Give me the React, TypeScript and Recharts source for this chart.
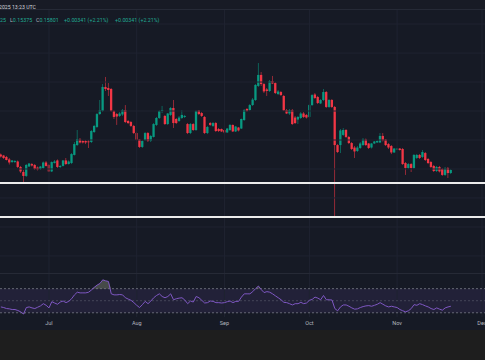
import React from 'react';
import { ComposedChart, Bar, Line, Area, XAxis, YAxis, ReferenceLine, ReferenceArea } from 'recharts';

// Jul 1 = day 0; first daily candle is Jun 14
const FIRST_DAY = -17;

// [open, high, low, close]
const ohlc: [number, number, number, number][] = [
  [0.1700,0.1707,0.1679,0.1686],[0.1693,0.1697,0.1669,0.1676],[0.1683,0.1690,0.1659,0.1662],[0.1666,0.1676,0.1631,0.1645],
  [0.1648,0.1662,0.1641,0.1659],[0.1648,0.1662,0.1641,0.1655],[0.1652,0.1659,0.1607,0.1614],[0.1614,0.1621,0.1572,0.1583],
  [0.1579,0.1593,0.1510,0.1552],[0.1552,0.1634,0.1545,0.1628],[0.1617,0.1641,0.1614,0.1638],[0.1634,0.1641,0.1617,0.1624],
  [0.1628,0.1634,0.1593,0.1600],[0.1610,0.1617,0.1590,0.1597],[0.1600,0.1621,0.1593,0.1617],[0.1607,0.1652,0.1600,0.1645],
  [0.1645,0.1655,0.1617,0.1621],[0.1628,0.1634,0.1579,0.1583],[0.1583,0.1652,0.1579,0.1648],[0.1641,0.1662,0.1638,0.1652],
  [0.1659,0.1666,0.1607,0.1614],[0.1614,0.1628,0.1607,0.1621],[0.1621,0.1662,0.1617,0.1659],[0.1659,0.1676,0.1628,0.1634],
  [0.1634,0.1659,0.1631,0.1652],[0.1641,0.1710,0.1634,0.1703],[0.1697,0.1786,0.1693,0.1772],[0.1765,0.1869,0.1759,0.1807],
  [0.1804,0.1814,0.1776,0.1783],[0.1793,0.1800,0.1776,0.1783],[0.1793,0.1800,0.1772,0.1783],[0.1790,0.1800,0.1745,0.1786],
  [0.1786,0.1869,0.1779,0.1862],[0.1855,0.1904,0.1848,0.1897],[0.1890,0.1986,0.1883,0.1979],[0.1979,0.2076,0.1973,0.2007],
  [0.2000,0.2186,0.1993,0.2166],[0.2166,0.2235,0.2138,0.2152],[0.2159,0.2193,0.2104,0.2145],[0.2152,0.2159,0.1993,0.2000],
  [0.2000,0.2007,0.1945,0.1959],[0.1979,0.1986,0.1904,0.1962],[0.1966,0.1993,0.1959,0.1983],[0.1976,0.2014,0.1966,0.2007],
  [0.2007,0.2041,0.1917,0.1924],[0.1931,0.1938,0.1910,0.1917],[0.1924,0.1931,0.1890,0.1897],[0.1897,0.1904,0.1841,0.1848],
  [0.1848,0.1855,0.1793,0.1800],[0.1804,0.1807,0.1745,0.1752],[0.1752,0.1800,0.1745,0.1793],[0.1800,0.1855,0.1793,0.1848],
  [0.1848,0.1855,0.1786,0.1793],[0.1793,0.1835,0.1786,0.1828],[0.1821,0.1917,0.1817,0.1910],[0.1904,0.1959,0.1897,0.1952],
  [0.1952,0.2007,0.1945,0.2000],[0.2000,0.2035,0.1986,0.2007],[0.1966,0.1973,0.1904,0.1910],[0.1910,0.1986,0.1904,0.1983],
  [0.1973,0.2028,0.1966,0.2021],[0.2021,0.2076,0.1883,0.1917],[0.1945,0.1952,0.1910,0.1917],[0.1931,0.1966,0.1924,0.1955],
  [0.1952,0.2007,0.1945,0.1973],[0.1959,0.1973,0.1952,0.1966],[0.1910,0.1917,0.1841,0.1848],[0.1848,0.1917,0.1841,0.1910],
  [0.1910,0.1917,0.1862,0.1869],[0.1869,0.2007,0.1862,0.2000],[0.2004,0.2007,0.1973,0.1979],[0.1986,0.1993,0.1959,0.1966],
  [0.1959,0.1966,0.1841,0.1848],[0.1848,0.1897,0.1841,0.1890],[0.1917,0.1924,0.1897,0.1904],[0.1897,0.1924,0.1890,0.1917],
  [0.1917,0.1924,0.1855,0.1862],[0.1876,0.1883,0.1855,0.1862],[0.1876,0.1879,0.1855,0.1859],[0.1869,0.1872,0.1841,0.1852],
  [0.1852,0.1883,0.1848,0.1879],[0.1869,0.1910,0.1862,0.1904],[0.1904,0.1907,0.1855,0.1859],[0.1859,0.1897,0.1855,0.1893],
  [0.1886,0.1890,0.1859,0.1866],[0.1879,0.1948,0.1876,0.1945],[0.1938,0.2014,0.1931,0.2007],[0.2014,0.2021,0.1993,0.2000],
  [0.2007,0.2048,0.2000,0.2041],[0.2041,0.2090,0.2035,0.2079],[0.2076,0.2186,0.2069,0.2180],[0.2173,0.2331,0.2166,0.2249],
  [0.2249,0.2269,0.2173,0.2186],[0.2186,0.2193,0.2124,0.2135],[0.2149,0.2159,0.2104,0.2138],[0.2138,0.2214,0.2131,0.2207],
  [0.2207,0.2242,0.2186,0.2190],[0.2193,0.2200,0.2117,0.2124],[0.2117,0.2145,0.2110,0.2135],[0.2131,0.2138,0.2104,0.2110],
  [0.2104,0.2110,0.2000,0.2004],[0.2007,0.2014,0.1979,0.1983],[0.1983,0.2014,0.1973,0.2007],[0.2007,0.2014,0.1904,0.1910],
  [0.1955,0.1966,0.1910,0.1917],[0.1941,0.1966,0.1910,0.1959],[0.1952,0.1993,0.1945,0.1983],[0.1983,0.1993,0.1952,0.1959],
  [0.1973,0.1979,0.1948,0.1955],[0.1959,0.2048,0.1952,0.2041],[0.2041,0.2117,0.2035,0.2110],[0.2114,0.2124,0.2083,0.2090],
  [0.2097,0.2104,0.2048,0.2055],[0.2052,0.2083,0.2048,0.2076],[0.2076,0.2152,0.2069,0.2131],[0.2131,0.2138,0.2021,0.2028],
  [0.2028,0.2083,0.2021,0.2076],[0.2076,0.2083,0.2021,0.2028],[0.2028,0.2035,0.1269,0.1765],[0.1765,0.1772,0.1710,0.1717],
  [0.1765,0.1876,0.1710,0.1866],[0.1835,0.1883,0.1828,0.1869],[0.1869,0.1876,0.1814,0.1821],[0.1821,0.1828,0.1772,0.1779],
  [0.1779,0.1786,0.1731,0.1738],[0.1748,0.1759,0.1676,0.1721],[0.1724,0.1759,0.1717,0.1748],[0.1745,0.1786,0.1738,0.1776],
  [0.1765,0.1814,0.1759,0.1804],[0.1804,0.1810,0.1759,0.1765],[0.1776,0.1779,0.1738,0.1745],[0.1748,0.1779,0.1741,0.1776],
  [0.1776,0.1793,0.1772,0.1790],[0.1783,0.1800,0.1779,0.1793],[0.1783,0.1848,0.1779,0.1828],[0.1828,0.1848,0.1790,0.1797],
  [0.1804,0.1807,0.1759,0.1765],[0.1772,0.1779,0.1738,0.1748],[0.1759,0.1765,0.1703,0.1714],[0.1714,0.1745,0.1710,0.1741],
  [0.1734,0.1745,0.1731,0.1741],[0.1741,0.1745,0.1727,0.1731],[0.1738,0.1745,0.1628,0.1634],[0.1641,0.1648,0.1559,0.1607],
  [0.1607,0.1641,0.1600,0.1634],[0.1634,0.1641,0.1579,0.1607],[0.1607,0.1703,0.1600,0.1697],[0.1676,0.1703,0.1669,0.1697],
  [0.1697,0.1703,0.1669,0.1676],[0.1683,0.1731,0.1676,0.1717],[0.1710,0.1717,0.1655,0.1662],[0.1669,0.1676,0.1634,0.1641],
  [0.1648,0.1655,0.1607,0.1614],[0.1621,0.1628,0.1579,0.1586],[0.1586,0.1621,0.1579,0.1614],[0.1614,0.1621,0.1576,0.1583],
  [0.1600,0.1607,0.1552,0.1559],[0.1559,0.1614,0.1552,0.1603],[0.1607,0.1614,0.1538,0.1572],[0.1572,0.1600,0.1565,0.1593],
];

const rsi: number[] = [
  39.7,38.7,37.0,36.5,35.4,35.4,33.8,31.6,27.9,38.7,
  39.7,38.1,37.0,39.2,41.4,45.1,42.4,38.1,48.4,46.2,
  44.1,47.8,49.5,46.8,49.0,53.3,59.7,64.1,63.0,63.0,
  63.0,64.1,67.8,72.2,75.9,78.6,84.6,83.0,81.9,61.4,
  59.7,59.7,60.3,59.7,54.9,52.7,50.6,46.8,42.4,38.7,
  43.5,48.9,45.1,49.5,54.9,58.7,61.4,57.0,54.9,57.0,
  61.4,51.6,53.3,54.3,54.9,51.1,45.1,49.5,47.8,57.0,
  54.9,50.6,46.2,46.8,49.5,48.9,46.8,46.8,46.2,46.8,
  48.4,49.5,46.8,48.9,48.9,56.0,61.4,61.4,61.4,65.1,
  70.0,74.3,68.4,63.5,65.1,64.1,61.4,58.1,54.9,51.6,
  47.3,46.8,45.1,43.0,45.1,45.1,47.3,45.1,46.2,50.6,
  52.2,56.0,54.3,51.6,58.7,51.6,51.6,51.1,37.0,33.3,
  39.7,43.0,43.0,40.8,38.1,36.0,36.5,38.7,40.3,41.4,
  41.9,40.8,42.4,44.1,46.8,44.1,41.4,39.7,40.8,39.7,
  38.7,35.4,33.3,31.6,33.3,37.0,43.5,42.4,45.1,43.5,
  41.4,39.7,37.0,35.4,38.1,36.0,34.3,38.1,39.7,40.8,
];

const monthDays = [0, 31, 62, 92, 123, 153];
const monthLabels = ['Jul', 'Aug', 'Sep', 'Oct', 'Nov', 'Dec'];
const priceGrid = [0.26, 0.24, 0.22, 0.2, 0.18, 0.16, 0.14, 0.12, 0.1];
const levelLines = [0.1503, 0.1269];
const rsiBand = [30, 70];
const rsiMid = 50;

const headerText = '2025 13:23 UTC';
const legendParts = [
  { label: '', value: '25' },
  { label: 'L', value: '0.15375' },
  { label: 'C', value: '0.15801' },
  { label: '', value: '+0.00341 (+2.21%)' },
  { label: '', value: '+0.00341 (+2.21%)' },
];
const legendX = [0, 10, 36, 64, 115];

const X_DOMAIN: [number, number] = [-17.31, 154.06];
const PRICE_DOMAIN: [number, number] = [0.08823, 0.2697];
const RSI_DOMAIN: [number, number] = [23.0, 94.3];

const UP = '#089981';
const DOWN = '#f23645';
const GRID = '#1f2331';
const BG = '#161a25';
const FONT = 'Roboto, "Noto Sans", sans-serif';

const data = ohlc.map(([o, h, l, c], i) => ({
  day: FIRST_DAY + i,
  o, h, l, c,
  range: [l, h],
  rsi: rsi[i],
  ob: [rsiBand[1], Math.max(rsiBand[1], rsi[i])],
  os: [Math.min(rsiBand[0], rsi[i]), rsiBand[0]],
}));

function Candle(props: any) {
  const { x, y, width, height, payload } = props;
  if (x == null || y == null || !payload) return null;
  const top = Math.min(y, y + height);
  const hgt = Math.abs(height);
  const { o, h, l, c } = payload;
  const span = h - l || 1e-9;
  const yOf = (v: number) => top + ((h - v) / span) * hgt;
  const cx = x + width / 2;
  const color = c >= o ? UP : DOWN;
  const bTop = yOf(Math.max(o, c));
  const bBot = yOf(Math.min(o, c));
  return (
    <g>
      <rect x={cx - 0.35} y={top} width={0.7} height={hgt} fill={color} fillOpacity={0.8} />
      <rect x={cx - 1.15} y={bTop} width={2.3} height={Math.max(0.8, bBot - bTop)} fill={color} />
    </g>
  );
}

export default function App() {
  return (
    <div style={{ position: 'fixed', left: 0, top: 0, width: 485, height: 360, overflow: 'hidden', background: BG, fontFamily: FONT }}>
      {/* header strip */}
      <div style={{ position: 'absolute', left: 0, top: 0, width: 485, height: 10, background: '#181b25', borderBottom: '1px solid #262a36', boxSizing: 'border-box' }} />
      {/* main price pane */}
      <div style={{ position: 'absolute', left: 0, top: 10, width: 485, height: 263 }}>
        <ComposedChart width={485} height={263} data={data} margin={{ top: 0, right: 0, bottom: 0, left: 0 }}>
          <XAxis type="number" dataKey="day" domain={X_DOMAIN} hide allowDataOverflow />
          <YAxis type="number" domain={PRICE_DOMAIN} hide allowDataOverflow width={0} />
          {priceGrid.map((p) => (
            <ReferenceLine key={'g' + p} y={p} stroke={GRID} strokeWidth={1} />
          ))}
          {monthDays.map((d) => (
            <ReferenceLine key={'v' + d} x={d} stroke={GRID} strokeWidth={1} />
          ))}
          <Bar dataKey="range" barSize={3} shape={<Candle />} isAnimationActive={false} />
          {levelLines.map((p) => (
            <ReferenceLine key={'l' + p} y={p} stroke="#ececec" strokeWidth={2} />
          ))}
        </ComposedChart>
      </div>
      {/* pane separator */}
      <div style={{ position: 'absolute', left: 0, top: 273, width: 485, height: 1, background: '#262a36' }} />
      {/* RSI pane + time axis */}
      <div style={{ position: 'absolute', left: 0, top: 274, width: 485, height: 56 }}>
        <ComposedChart width={485} height={56} data={data} margin={{ top: 0, right: 0, bottom: 0, left: 0 }}>
          <XAxis
            type="number"
            dataKey="day"
            domain={X_DOMAIN}
            allowDataOverflow
            ticks={monthDays}
            interval={0}
            height={13}
            axisLine={false}
            tickLine={false}
            tickSize={0}
            tickMargin={4}
            tickFormatter={(v: number) => monthLabels[monthDays.indexOf(v)]}
            tick={{ fill: '#b2b5be', fontSize: 5.5, fontFamily: FONT }}
          />
          <YAxis type="number" domain={RSI_DOMAIN} hide allowDataOverflow width={0} />
          {monthDays.map((d) => (
            <ReferenceLine key={'rv' + d} x={d} stroke={GRID} strokeWidth={1} />
          ))}
          <ReferenceArea y1={rsiBand[0]} y2={rsiBand[1]} fill="#7e57c2" fillOpacity={0.12} stroke="none" />
          {rsiBand.map((v) => (
            <ReferenceLine key={'b' + v} y={v} stroke="#787b86" strokeDasharray="2 2" strokeWidth={0.8} />
          ))}
          <ReferenceLine y={rsiMid} stroke="#787b86" strokeOpacity={0.5} strokeDasharray="2 2" strokeWidth={0.8} />
          <Area dataKey="ob" type="linear" stroke="none" fill="#6f7368" fillOpacity={0.55} isAnimationActive={false} />
          <Area dataKey="os" type="linear" stroke="none" fill="#6f7368" fillOpacity={0.55} isAnimationActive={false} />
          <Line dataKey="rsi" type="linear" stroke="#7e57c2" strokeWidth={1} dot={false} isAnimationActive={false} />
        </ComposedChart>
      </div>
      {/* footer */}
      <div style={{ position: 'absolute', left: 0, top: 330, width: 485, height: 30, background: '#1e1e1e' }} />
      {/* header texts */}
      <svg width={485} height={30} style={{ position: 'absolute', left: 0, top: 0 }}>
        <text x={-1} y={8.5} fill="#d1d4dc" fontSize={5.2} fontFamily={FONT}>{headerText}</text>
        {legendParts.map((p, i) => (
          <text key={i} x={legendX[i]} y={22} fontSize={5.3} fontFamily={FONT}>
            {p.label ? <tspan fill="#b2b5be">{p.label}</tspan> : null}
            <tspan fill="#22ab94">{p.value}</tspan>
          </text>
        ))}
      </svg>
    </div>
  );
}
